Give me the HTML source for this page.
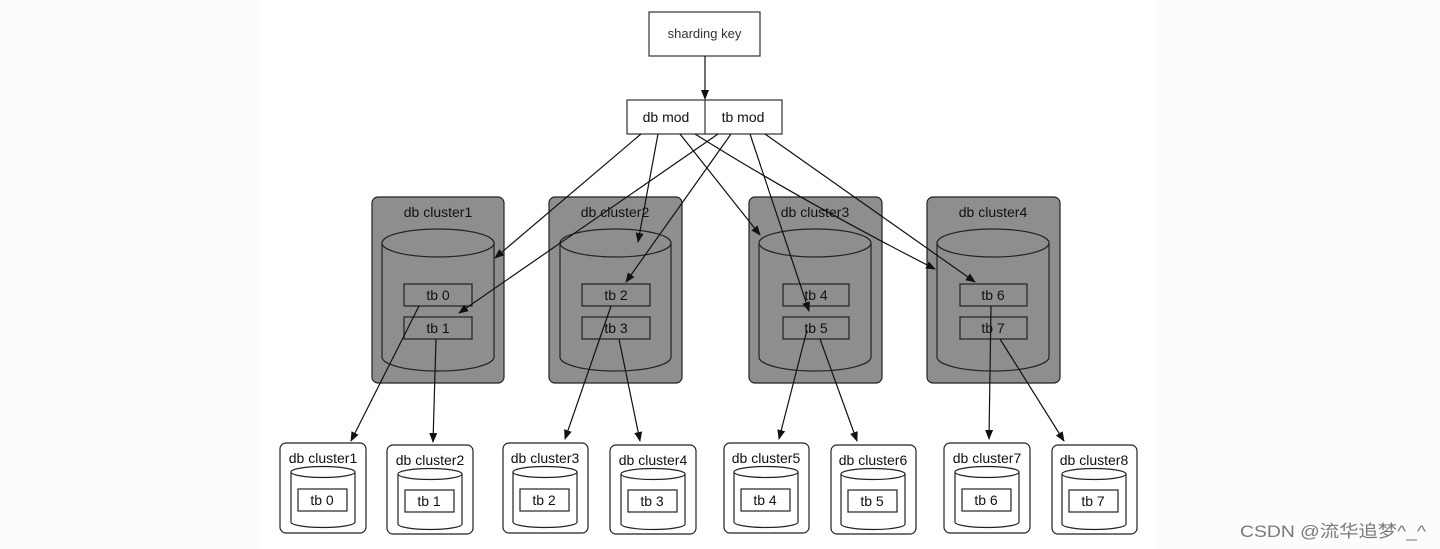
<!DOCTYPE html>
<html><head><meta charset="utf-8"><style>
html,body{margin:0;padding:0;background:#fcfcfc;}
svg{display:block;}
text{font-family:"Liberation Sans",sans-serif;}
</style></head><body>
<svg width="1440" height="549" viewBox="0 0 1440 549" xmlns="http://www.w3.org/2000/svg">
<defs>
<marker id="a" markerWidth="10" markerHeight="10" refX="9" refY="5" orient="auto" markerUnits="userSpaceOnUse">
<path d="M0,1 L10,5 L0,9 z" fill="#111"/></marker>
</defs>
<rect x="0" y="0" width="1440" height="549" fill="#fcfcfc"/>
<rect x="261" y="0" width="895" height="549" fill="#ffffff"/>

<rect x="649" y="12" width="111" height="44" fill="#fff" stroke="#333" stroke-width="1.2"/>
<text x="704.5" y="38" font-size="13" fill="#333" text-anchor="middle">sharding key</text>
<line x1="705" y1="56" x2="705" y2="99" stroke="#111" stroke-width="1.2" marker-end="url(#a)"/>
<rect x="627" y="100" width="155" height="34" fill="#fff" stroke="#333" stroke-width="1.2"/>
<line x1="705" y1="100" x2="705" y2="134" stroke="#333" stroke-width="1.2"/>
<text x="666" y="122" font-size="14" fill="#111" text-anchor="middle">db mod</text>
<text x="743" y="122" font-size="14" fill="#111" text-anchor="middle">tb mod</text>

<g stroke="#222" stroke-width="1.2" fill="#8e8e8e">
<rect x="372" y="197" width="132" height="186" rx="6"/>
<rect x="549" y="197" width="133" height="186" rx="6"/>
<rect x="749" y="197" width="133" height="186" rx="6"/>
<rect x="927" y="197" width="133" height="186" rx="6"/>
</g>
<g font-size="14" fill="#111" text-anchor="middle">
<text x="438" y="217">db cluster1</text>
<text x="615" y="217">db cluster2</text>
<text x="815" y="217">db cluster3</text>
<text x="993" y="217">db cluster4</text>
</g>
<g stroke="#222" stroke-width="1.2" fill="#8e8e8e">
<path d="M382,243 L382,357 A56,14 0 0 0 494,357 L494,243 A56,14 0 0 0 382,243 A56,14 0 0 0 494,243"/>
<path d="M560,243 L560,357 A55.5,14 0 0 0 671,357 L671,243 A55.5,14 0 0 0 560,243 A55.5,14 0 0 0 671,243"/>
<path d="M759,243 L759,357 A56,14 0 0 0 871,357 L871,243 A56,14 0 0 0 759,243 A56,14 0 0 0 871,243"/>
<path d="M937,243 L937,357 A56,14 0 0 0 1049,357 L1049,243 A56,14 0 0 0 937,243 A56,14 0 0 0 1049,243"/>
<rect x="404" y="284" width="68" height="22"/><rect x="404" y="317" width="68" height="22"/>
<rect x="582" y="284" width="68" height="22"/><rect x="582" y="317" width="68" height="22"/>
<rect x="783" y="284" width="66" height="22"/><rect x="783" y="317" width="66" height="22"/>
<rect x="960" y="284" width="67" height="22"/><rect x="960" y="317" width="67" height="22"/>
</g>
<g font-size="14" fill="#111" text-anchor="middle">
<text x="438" y="300">tb 0</text><text x="438" y="333">tb 1</text>
<text x="616" y="300">tb 2</text><text x="616" y="333">tb 3</text>
<text x="816" y="300">tb 4</text><text x="816" y="333">tb 5</text>
<text x="993" y="300">tb 6</text><text x="993" y="333">tb 7</text>
</g>

<g stroke="#111" stroke-width="1.2" fill="none" marker-end="url(#a)">
<line x1="641" y1="134" x2="495" y2="258"/>
<line x1="658" y1="134" x2="638" y2="242"/>
<line x1="680" y1="134" x2="760" y2="235"/>
<path d="M695,134 Q800,200 935,269"/>
<line x1="718" y1="134" x2="459" y2="313"/>
<line x1="731" y1="134" x2="626" y2="282"/>
<line x1="750" y1="134" x2="809" y2="311"/>
<line x1="765" y1="134" x2="975" y2="282"/>
<line x1="419" y1="306" x2="351" y2="441"/>
<line x1="436" y1="339" x2="433" y2="442"/>
<line x1="611" y1="306" x2="565" y2="439"/>
<line x1="619" y1="339" x2="640" y2="441"/>
<line x1="807" y1="330" x2="779" y2="439"/>
<line x1="820" y1="339" x2="857" y2="441"/>
<line x1="991" y1="306" x2="989" y2="439"/>
<line x1="1000" y1="339" x2="1064" y2="441"/>
</g>

<g stroke="#222" stroke-width="1.2" fill="#fff">
<rect x="280" y="443" width="86" height="90" rx="6"/>
<rect x="387" y="445" width="86" height="89" rx="6"/>
<rect x="503" y="443" width="85" height="90" rx="6"/>
<rect x="610" y="445" width="86" height="89" rx="6"/>
<rect x="724" y="443" width="85" height="90" rx="6"/>
<rect x="831" y="445" width="85" height="89" rx="6"/>
<rect x="944" y="443" width="86" height="90" rx="6"/>
<rect x="1052" y="445" width="85" height="89" rx="6"/>
</g>
<g font-size="14" fill="#111" text-anchor="middle">
<text x="323" y="463">db cluster1</text>
<text x="430" y="465">db cluster2</text>
<text x="545" y="463">db cluster3</text>
<text x="653" y="465">db cluster4</text>
<text x="766" y="463">db cluster5</text>
<text x="873" y="465">db cluster6</text>
<text x="987" y="463">db cluster7</text>
<text x="1094" y="465">db cluster8</text>
</g>
<g stroke="#222" stroke-width="1.2" fill="#fff">
<path d="M291,472 L291,522 A32,5.5 0 0 0 355,522 L355,472 A32,5.5 0 0 0 291,472 A32,5.5 0 0 0 355,472"/>
<path d="M398,474 L398,524 A32,5.5 0 0 0 462,524 L462,474 A32,5.5 0 0 0 398,474 A32,5.5 0 0 0 462,474"/>
<path d="M513,472 L513,522 A32,5.5 0 0 0 577,522 L577,472 A32,5.5 0 0 0 513,472 A32,5.5 0 0 0 577,472"/>
<path d="M621,474 L621,524 A32,5.5 0 0 0 685,524 L685,474 A32,5.5 0 0 0 621,474 A32,5.5 0 0 0 685,474"/>
<path d="M734,472 L734,522 A32,5.5 0 0 0 798,522 L798,472 A32,5.5 0 0 0 734,472 A32,5.5 0 0 0 798,472"/>
<path d="M841,474 L841,524 A32,5.5 0 0 0 905,524 L905,474 A32,5.5 0 0 0 841,474 A32,5.5 0 0 0 905,474"/>
<path d="M955,472 L955,522 A32,5.5 0 0 0 1019,522 L1019,472 A32,5.5 0 0 0 955,472 A32,5.5 0 0 0 1019,472"/>
<path d="M1062,474 L1062,524 A32,5.5 0 0 0 1126,524 L1126,474 A32,5.5 0 0 0 1062,474 A32,5.5 0 0 0 1126,474"/>
<rect x="298" y="489" width="49" height="22"/>
<rect x="405" y="490" width="49" height="22"/>
<rect x="520" y="489" width="49" height="22"/>
<rect x="628" y="490" width="49" height="22"/>
<rect x="741" y="489" width="49" height="22"/>
<rect x="848" y="490" width="49" height="22"/>
<rect x="962" y="489" width="49" height="22"/>
<rect x="1069" y="490" width="49" height="22"/>
</g>
<g font-size="14" fill="#111" text-anchor="middle">
<text x="322" y="505">tb 0</text>
<text x="429" y="506">tb 1</text>
<text x="544" y="505">tb 2</text>
<text x="652" y="506">tb 3</text>
<text x="765" y="505">tb 4</text>
<text x="872" y="506">tb 5</text>
<text x="986" y="505">tb 6</text>
<text x="1093" y="506">tb 7</text>
</g>

<text x="1240" y="537" font-size="17" fill="#7a7a7a" textLength="186" lengthAdjust="spacingAndGlyphs" style='font-family:"Liberation Sans","Noto Sans CJK SC",sans-serif'>CSDN @流华追梦^_^</text>
</svg>
</body></html>
